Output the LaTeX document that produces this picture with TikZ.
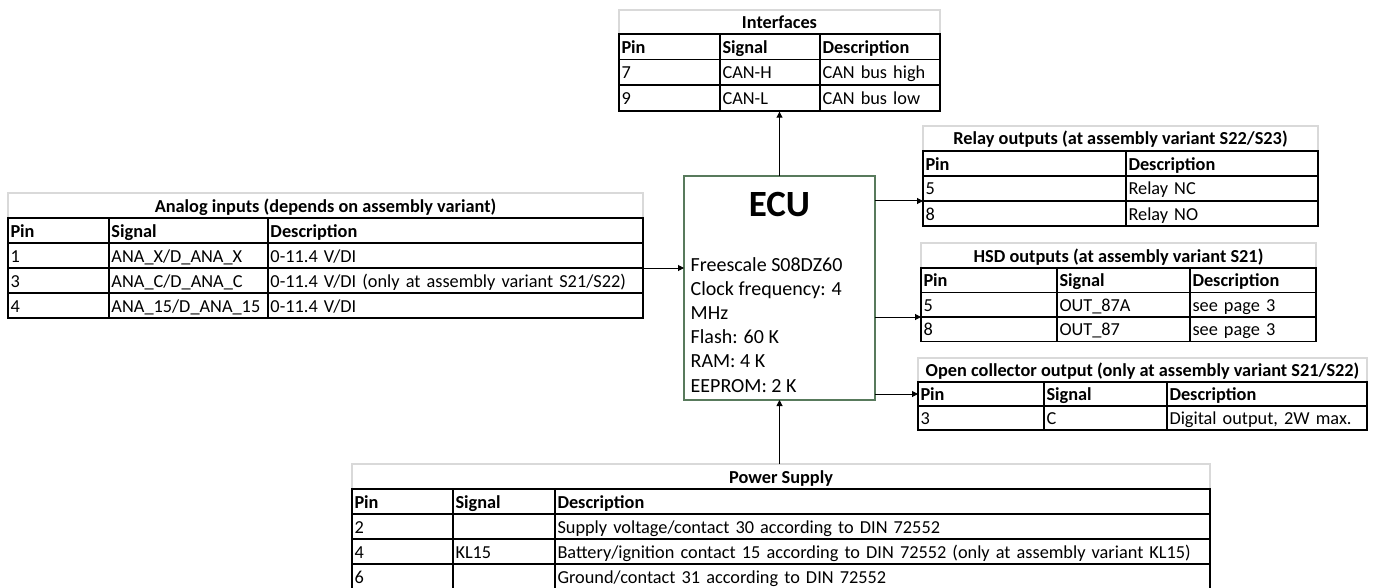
\documentclass[tikz,border=0pt]{standalone}
\usepackage{fontspec}
\setmainfont{Carlito}
\usetikzlibrary{positioning,matrix,arrows.meta}
\definecolor{ttlgray}{RGB}{217,217,217}
\definecolor{ecugreen}{RGB}{88,122,92}
\newcommand\tabfont{\fontsize{18.3}{22}\selectfont}
\newcommand\ecufont{\fontsize{20}{24.2}\selectfont}
\newcommand\ecuttlfont{\fontsize{37}{40}\selectfont\bfseries}
\tikzset{
  cell/.style={draw,line width=1.8pt,outer sep=0pt,inner xsep=2.5pt,inner ysep=0pt,minimum height=25pt,text height=16.5pt,text depth=3.5pt,align=left,anchor=center,font=\tabfont},
  ttl/.style={draw=ttlgray,line width=1.5pt,outer sep=0pt,inner sep=0pt,text height=16.5pt,text depth=3.5pt,font=\tabfont\bfseries},
  tab/.style={matrix of nodes,nodes in empty cells,inner sep=0pt,outer sep=0pt,column sep=-1.8pt,row sep=-1.8pt,nodes={cell},row 1/.style={nodes={font=\tabfont\bfseries}}},
  arr/.style={-{Triangle[length=6pt,width=6pt]},line width=1pt},
  ecubox/.style={draw=ecugreen,line width=1.2pt,minimum width=191pt,minimum height=224pt,inner sep=0pt,outer sep=0pt}
}
\begin{document}
\begin{tikzpicture}[x=1pt,y=-1pt]
\useasboundingbox (0,0) rectangle (1378,588);
% ECU
\node[ecubox] (ecu) at (779.5,288) {};
\node[font=\ecuttlfont,inner sep=0pt,below=16pt of ecu.north] (ecuttl) {ECU};
\node[font=\ecufont,align=left,inner sep=0pt,below right=81pt and 6.5pt of ecu.north west] (ecutxt) {Freescale S08DZ60\\Clock frequency: 4\\MHz\\Flash: 60 K\\RAM: 4 K\\EEPROM: 2 K};
% interfaces
\node[ttl,minimum width=321pt,minimum height=24pt] (intfttl) at (779.5,22) {Interfaces};
\matrix (intf) [tab,below=-0.9pt of intfttl,nodes={minimum height=25.6pt},
  column 1/.style={nodes={text width=96pt}},column 2/.style={nodes={text width=95pt}},column 3/.style={nodes={text width=115pt}}] {
  Pin & Signal & Description \\
  7 & CAN-H & CAN bus high \\
  9 & CAN-L & CAN bus low \\
};
% analog inputs
\node[ttl,minimum width=635pt,minimum height=25pt] (anattl) at (325.5,205.5) {Analog inputs (depends on assembly variant)};
\matrix (ana) [tab,below=-0.9pt of anattl,
  column 1/.style={nodes={text width=96pt}},column 2/.style={nodes={text width=154pt}},column 3/.style={nodes={text width=370pt}}] {
  Pin & Signal & Description \\
  1 & ANA\_X/D\_ANA\_X & 0-11.4 V/DI \\
  3 & ANA\_C/D\_ANA\_C & 0-11.4 V/DI (only at assembly variant S21/S22) \\
  4 & ANA\_15/D\_ANA\_15 & 0-11.4 V/DI \\
};
% relay outputs
\node[ttl,minimum width=395pt,minimum height=25pt] (relayttl) at (1120.5,138.5) {Relay outputs (at assembly variant S22/S23)};
\matrix (relay) [tab,below=-0.9pt of relayttl,
  column 1/.style={nodes={text width=198pt}},column 2/.style={nodes={text width=187pt}}] {
  Pin & Description \\
  5 & Relay NC \\
  8 & Relay NO \\
};
% HSD outputs
\node[ttl,minimum width=395pt,minimum height=25pt] (hsdttl) at (1118.5,255.5) {HSD outputs (at assembly variant S21)};
\matrix (hsd) [tab,below=-0.9pt of hsdttl,nodes={minimum height=24.5pt},
  column 1/.style={nodes={text width=131pt}},column 2/.style={nodes={text width=128pt}},column 3/.style={nodes={text width=121pt}}] {
  Pin & Signal & Description \\
  5 & OUT\_87A & see page 3 \\
  8 & OUT\_87 & see page 3 \\
};
% open collector output
\node[ttl,minimum width=449pt,minimum height=24pt] (octtl) at (1142.5,370) {Open collector output (only at assembly variant S21/S22)};
\matrix (oc) [tab,below=-0.9pt of octtl,nodes={minimum height=24pt},
  column 1/.style={nodes={text width=121pt}},column 2/.style={nodes={text width=118pt}},column 3/.style={nodes={text width=195pt}}] {
  Pin & Signal & Description \\
  3 & C & Digital output, 2W max. \\
};
% power supply
\node[ttl,minimum width=858pt,minimum height=25pt] (pwrttl) at (781,476.5) {Power Supply};
\matrix (pwr) [tab,below=-0.9pt of pwrttl,
  column 1/.style={nodes={text width=96pt}},column 2/.style={nodes={text width=97pt}},column 3/.style={nodes={text width=650pt}}] {
  Pin & Signal & Description \\
  2 & & Supply voltage/contact 30 according to DIN 72552 \\
  4 & KL15 & Battery/ignition contact 15 according to DIN 72552 (only at assembly variant KL15) \\
  6 & & Ground/contact 31 according to DIN 72552 \\
};
% connectors
\draw[arr] (ecu.north) -- (intf.south);
\draw[arr] (ana-2-3.south east) -- (ana-2-3.south east -| ecu.west);
\draw[arr] (ecu.east |- relay-2-1.south west) -- (relay-2-1.south west);
\draw[arr] (ecu.east |- hsd-2-1.south west) -- (hsd-2-1.south west);
\draw[arr] (ecu.east |- oc-1-1.west) -- (oc-1-1.west);
\draw[arr] (ecu.south |- pwrttl.north) -- (ecu.south);
\end{tikzpicture}
\end{document}
